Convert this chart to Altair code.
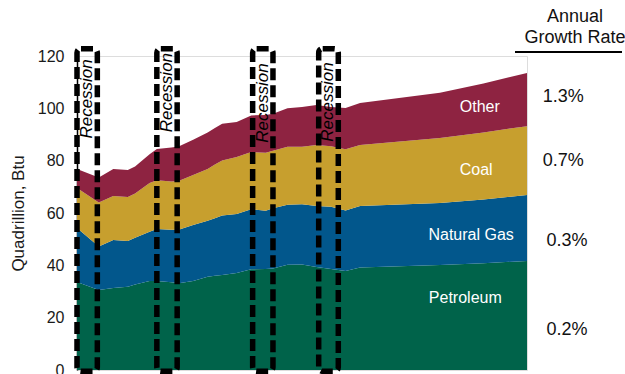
import altair as alt
import pandas as pd

# ---- data ----
years = [1973, 1976, 1978, 1980, 1981, 1983, 1984, 1986, 1987, 1989, 1991, 1992, 1993,
         1995, 1997, 1999, 2000, 2002, 2004, 2006, 2008, 2010, 2012, 2023, 2029, 2035]
petroleum = [33.6, 30.6, 31.3, 31.8, 32.7, 34.0, 34.0, 33.5, 33.2, 34.0, 35.6, 36.0, 36.3,
             37.1, 38.5, 38.6, 38.8, 40.2, 40.3, 39.4, 38.6, 37.8, 39.2, 40.1, 40.8, 41.7]
natural_gas = [20.7, 16.6, 18.4, 17.5, 17.8, 18.8, 19.9, 20.1, 20.4, 21.4, 21.4, 22.0, 22.7,
               22.5, 22.9, 22.3, 23.0, 23.0, 23.0, 23.3, 23.8, 23.2, 23.5, 23.7, 24.4, 25.2]
coal = [15.3, 16.8, 16.8, 16.8, 17.0, 18.7, 18.6, 18.4, 18.6, 19.1, 19.8, 20.5, 21.1,
        21.8, 21.9, 22.1, 22.0, 22.1, 22.0, 23.3, 23.1, 23.4, 23.3, 24.9, 25.6, 26.3]
other = [7.2, 9.6, 10.3, 10.3, 10.3, 11.0, 12.0, 13.0, 13.2, 13.5, 14.0, 14.0, 14.0,
         13.4, 14.0, 14.5, 14.1, 14.7, 15.2, 15.3, 15.0, 15.7, 16.0, 17.3, 18.7, 20.3]

fuels = ["Petroleum", "Natural Gas", "Coal", "Other"]
fuel_colors = ["#00634a", "#02578c", "#c79f2e", "#8e2341"]

# fuel labels inside the areas
label_x = [2026.5, 2027.3, 2028.0, 2028.5]
label_y = [27.5, 51.6, 76.4, 100.5]

# annual growth rates (right side)
growth_text = ["0.2%", "0.3%", "0.7%", "1.3%"]
growth_x = [2040.5, 2040.5, 2040.0, 2040.0]
growth_y = [15.3, 49.3, 79.9, 104.3]

# recession boxes
rec_start = [1973.0, 1984.0, 1997.2, 2006.3]
rec_end = [1975.8, 1986.8, 2000.0, 2009.0]
rec_top = [122.8, 122.8, 122.8, 122.8]
rec_bottom = [-0.5, -0.5, -0.5, -0.5]
rec_label_y = [103.6, 106.0, 102.0, 102.4]

header_lines = ["Annual", "Growth Rate"]

FONT = "Liberation Sans"

# ---- tables ----
rows = []
for i, y in enumerate(years):
    for k, (name, series) in enumerate(zip(fuels, [petroleum, natural_gas, coal, other])):
        rows.append({"year": y, "fuel": name, "value": series[i], "ord": k})
df = pd.DataFrame(rows)

labels_df = pd.DataFrame({"fuel": fuels, "x": label_x, "y": label_y})
growth_df = pd.DataFrame({"t": growth_text, "x": growth_x, "y": growth_y})
rec_df = pd.DataFrame({"s": rec_start, "e": rec_end, "top": rec_top, "bot": rec_bottom,
                       "mid": [(a + b) / 2 for a, b in zip(rec_start, rec_end)],
                       "ly": rec_label_y, "t": ["Recession"] * 4})
header_df = pd.DataFrame({"t": header_lines, "py": [-39, -18]})

xscale = alt.Scale(domain=[1973, 2035], nice=False, zero=False)
yscale = alt.Scale(domain=[0, 120], nice=False)

areas = alt.Chart(df).mark_area(interpolate="linear").encode(
    x=alt.X("year:Q", scale=xscale, axis=None),
    y=alt.Y("value:Q", stack="zero", scale=yscale,
            axis=alt.Axis(title="Quadrillion, Btu", values=[0, 20, 40, 60, 80, 100, 120],
                          grid=False, ticks=False, domain=True, domainColor="black",
                          domainWidth=1.5, labelFont=FONT, labelFontSize=16,
                          labelColor="#1a1a1a", labelPadding=13, titleFont=FONT,
                          titleFontSize=17, titleFontWeight="normal", titleColor="#1a1a1a",
                          titlePadding=10)),
    color=alt.Color("fuel:N", scale=alt.Scale(domain=fuels, range=fuel_colors), legend=None),
    order=alt.Order("ord:Q"),
)

fuel_labels = alt.Chart(labels_df).mark_text(
    font=FONT, fontSize=16, color="white", align="center", baseline="middle"
).encode(x=alt.X("x:Q", scale=xscale), y=alt.Y("y:Q", scale=yscale), text="fuel:N")

growth = alt.Chart(growth_df).mark_text(
    font=FONT, fontSize=18, color="#111111", align="center", baseline="middle"
).encode(x=alt.X("x:Q", scale=xscale), y=alt.Y("y:Q", scale=yscale), text="t:N")

boxes = alt.Chart(rec_df).mark_rect(
    fillOpacity=0, stroke="black", strokeWidth=5.5, strokeDash=[12, 5], cornerRadius=4
).encode(x=alt.X("s:Q", scale=xscale), x2="e:Q",
         y=alt.Y("top:Q", scale=yscale), y2="bot:Q")

rec_labels = alt.Chart(rec_df).mark_text(
    font=FONT, fontSize=17, fontStyle="italic", color="black", angle=270,
    align="center", baseline="middle"
).encode(x=alt.X("mid:Q", scale=xscale), y=alt.Y("ly:Q", scale=yscale), text="t:N")

header = alt.Chart(header_df).mark_text(
    font=FONT, fontSize=18, color="#111111", align="center", baseline="middle"
).encode(x=alt.value(498), y=alt.Y("py:Q", scale=None), text="t:N")

underline = alt.Chart(header_df.head(1)).mark_rule(color="black", strokeWidth=2).encode(
    x=alt.value(438), x2=alt.value(545), y=alt.value(-4)
)

chart = alt.layer(areas, fuel_labels, growth, boxes, rec_labels, header, underline).properties(
    width=450, height=314,
    autosize=alt.AutoSizeParams(type="none"),
    padding={"left": 77, "top": 56, "right": 98, "bottom": 4},
).configure_view(stroke=None).configure(background="white")

chart.save("out.html", embed_options={"renderer": "svg", "actions": False})
